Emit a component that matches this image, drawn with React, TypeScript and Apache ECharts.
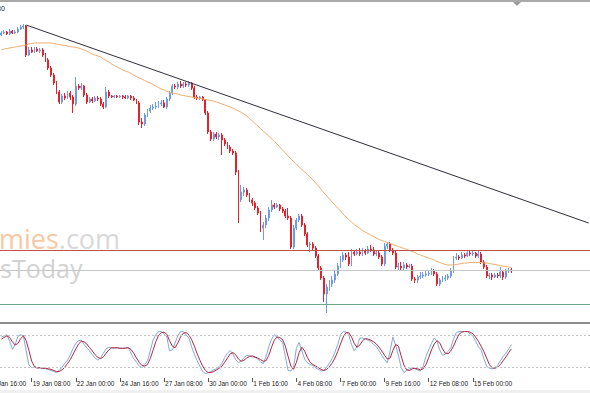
import React, { useEffect, useRef } from "react";
import * as echarts from "echarts";

// Number of time slots on the x axis (bars + empty chart-shift area)
const SLOTS = 214;

// H4 candles: [open, close, low, high]
const candles: number[][] = [
  [286, 288, 285, 290], [288, 289, 287, 291], [289, 287, 286, 290], [287, 290, 286, 292], [290, 288, 287, 291],
  [288, 289, 287, 291], [289, 292, 288, 294], [292, 294, 291, 296], [294, 295, 292, 297], [295, 266, 264, 296],
  [266, 271, 265, 274], [271, 269, 268, 274], [269, 272, 268, 274], [272, 270, 269, 274], [270, 271, 268, 273],
  [271, 266, 264, 273], [266, 261, 259, 268], [261, 253, 251, 263], [253, 246, 244, 255], [246, 238, 236, 248],
  [238, 229, 227, 240], [229, 219, 217, 231], [219, 225, 217, 227], [225, 223, 221, 228], [223, 228, 222, 230],
  [228, 224, 221, 230], [224, 217, 208, 226], [217, 235, 215, 244], [235, 233, 231, 237], [233, 235, 231, 238],
  [235, 226, 224, 236], [226, 219, 217, 228], [219, 222, 218, 224], [222, 220, 218, 224], [220, 223, 219, 225],
  [223, 222, 220, 225], [222, 217, 215, 224], [217, 214, 212, 219], [214, 229, 213, 234], [229, 225, 223, 231],
  [225, 224, 223, 226], [224, 225, 223, 226], [225, 224, 223, 226], [224, 225, 223, 226], [225, 224, 222, 226],
  [224, 223, 222, 226], [223, 225, 222, 226], [225, 223, 221, 226], [223, 221, 220, 225], [221, 218, 217, 222],
  [218, 199, 196, 220], [199, 197, 193, 203], [197, 206, 195, 208], [206, 210, 204, 212], [210, 213, 208, 216],
  [213, 214, 211, 217], [214, 215, 212, 219], [215, 217, 213, 220], [217, 218, 215, 221], [218, 214, 213, 221],
  [214, 222, 212, 224], [222, 228, 220, 230], [228, 235, 226, 237], [235, 234, 232, 237], [234, 237, 232, 239],
  [237, 235, 233, 240], [235, 237, 233, 239], [237, 236, 234, 239], [236, 238, 234, 240], [238, 233, 231, 239],
  [233, 224, 222, 235], [224, 223, 221, 226], [223, 224, 221, 225], [224, 221, 220, 225], [221, 208, 206, 222],
  [208, 189, 187, 210], [189, 182, 180, 191], [182, 187, 180, 189], [187, 184, 182, 189], [184, 186, 181, 188],
  [186, 181, 166, 188], [181, 177, 175, 183], [177, 174, 172, 179], [174, 170, 168, 176], [170, 168, 166, 172],
  [168, 149, 146, 170], [149, 121, 98, 151], [121, 129, 119, 136], [129, 131, 125, 134], [131, 126, 124, 133],
  [126, 121, 119, 128], [121, 118, 115, 123], [118, 113, 111, 120], [113, 108, 106, 115], [108, 93, 89, 110],
  [93, 96, 81, 99], [96, 103, 93, 106], [103, 111, 100, 114], [111, 116, 109, 121], [116, 114, 112, 118],
  [114, 116, 113, 118], [116, 112, 110, 117], [112, 110, 108, 114], [110, 105, 103, 112], [105, 103, 101, 113],
  [103, 74, 72, 105], [74, 93, 72, 96], [93, 101, 91, 103], [101, 105, 99, 107], [105, 96, 94, 107],
  [96, 87, 85, 98], [87, 76, 74, 89], [76, 77, 69, 79], [77, 73, 70, 79], [73, 65, 63, 75],
  [65, 53, 51, 67], [53, 43, 41, 55], [43, 27, 19, 45], [27, 34, 8, 37], [34, 37, 30, 41],
  [37, 41, 34, 45], [41, 47, 38, 51], [47, 55, 45, 58], [55, 61, 53, 65], [61, 66, 59, 69],
  [66, 64, 61, 68], [64, 57, 55, 69], [57, 69, 55, 72], [69, 67, 65, 71], [67, 69, 66, 72],
  [69, 67, 65, 73], [67, 70, 65, 73], [70, 68, 66, 72], [68, 72, 67, 75], [72, 71, 69, 76],
  [71, 67, 65, 74], [67, 68, 65, 71], [68, 64, 62, 70], [64, 57, 55, 66], [57, 75, 55, 78],
  [75, 77, 72, 79], [77, 71, 69, 79], [71, 68, 66, 73], [68, 54, 52, 70], [54, 55, 51, 58],
  [55, 53, 51, 59], [53, 56, 51, 59], [56, 54, 52, 58], [54, 55, 53, 57], [55, 42, 40, 57],
  [42, 41, 38, 44], [41, 44, 38, 46], [44, 45, 42, 49], [45, 46, 43, 49], [46, 47, 44, 51],
  [47, 48, 45, 51], [48, 50, 46, 53], [50, 47, 45, 52], [47, 37, 35, 49], [37, 41, 35, 43],
  [41, 42, 39, 45], [42, 43, 40, 46], [43, 45, 41, 47], [45, 50, 43, 53], [50, 63, 48, 65],
  [63, 64, 61, 68], [64, 63, 61, 66], [63, 66, 62, 69], [66, 65, 63, 68], [65, 68, 64, 71],
  [68, 67, 65, 70], [67, 68, 65, 70], [68, 65, 63, 69], [65, 67, 63, 70], [67, 59, 57, 69],
  [59, 54, 52, 61], [54, 45, 43, 56], [45, 46, 42, 48], [46, 44, 41, 48], [44, 46, 43, 48],
  [46, 45, 43, 48], [45, 49, 43, 54], [49, 44, 41, 51], [44, 50, 42, 52], [50, 51, 48, 53],
  [51, 50, 48, 53],
];

// Moving average overlay
const maLine: number[] = [
  271, 272, 272.5, 273, 273.5, 274, 274.5, 275, 275.5, 276,
  277, 277.5, 278, 278, 278, 278, 278, 278, 278, 277.5,
  277, 276.5, 276, 275.5, 275, 274.5, 274, 273.5, 273, 272,
  271, 270, 268.5, 267, 266, 265, 264, 262, 260.5, 259,
  257, 255.5, 254, 252.5, 251, 250, 249, 247.5, 246, 244.5,
  243, 242, 240.5, 239, 238, 236.5, 235, 233.5, 232, 231,
  229.5, 228.5, 228, 227.5, 227, 226, 225.5, 225, 224.5, 224,
  223.5, 223, 222.5, 222, 221.5, 221, 220.5, 220, 219, 218,
  217, 216, 215, 214, 213, 211.5, 210, 208.5, 207, 205,
  202.5, 200, 197.5, 195, 192.5, 190, 187.5, 185, 182, 179.5,
  177, 174, 171, 168, 165, 162, 159.5, 157, 154, 151.5,
  149, 146.5, 144, 141, 138, 135, 131.5, 128, 125, 122,
  119, 116, 113, 110, 107, 104, 101.5, 99, 96.5, 94.5,
  92.5, 90.5, 89, 87.5, 86, 84.5, 83, 81.5, 80.5, 79.5,
  78.5, 77.5, 76.5, 75.5, 74.5, 73.5, 72.5, 71.5, 70.5, 69.5,
  68.5, 67, 66, 65, 64, 63, 62, 61, 59.5, 58.5,
  57.5, 56.5, 56, 56, 56, 56.5, 57, 57.5, 58, 58,
  58.5, 58.5, 58.5, 58.5, 58.5, 58, 58, 57.5, 57, 56.5,
  56, 55.5, 55, 54.5, 54, 53.5,
];

// Stochastic oscillator: main (%K) and signal (%D)
const stochMain: number[] = [
  76, 78, 80, 68, 53, 62, 77, 80, 78, 50,
  24, 19, 20, 18, 19, 18, 17, 16, 14, 12,
  10, 14, 20, 27, 33, 43, 55, 64, 69, 70,
  62, 56, 50, 43, 37, 33, 38, 46, 54, 57,
  56, 55, 56, 55, 55, 56, 57, 46, 36, 29,
  22, 19, 25, 32, 50, 70, 80, 86, 86, 82,
  76, 50, 52, 65, 78, 86, 86, 80, 74, 58,
  44, 32, 22, 12, 8, 10, 12, 15, 17, 21,
  27, 38, 46, 51, 44, 34, 28, 32, 38, 42,
  41, 39, 38, 35, 30, 27, 40, 58, 72, 80,
  76, 70, 66, 40, 14, 13, 20, 55, 66, 50,
  35, 28, 25, 23, 19, 16, 13, 14, 20, 28,
  36, 48, 62, 80, 86, 85, 80, 62, 50, 58,
  74, 74, 72, 70, 68, 62, 58, 50, 42, 34,
  28, 50, 76, 60, 42, 20, 10, 14, 17, 19,
  17, 15, 13, 22, 40, 52, 64, 74, 68, 52,
  42, 44, 49, 56, 72, 84, 86, 86, 86, 86,
  82, 78, 68, 58, 52, 36, 22, 18, 17, 19,
  24, 32, 40, 46, 54, 62,
];
const stochSignal: number[] = [
  72, 75, 78, 75, 67, 61, 64, 73, 78, 69,
  51, 31, 21, 19, 19, 18, 18, 17, 16, 14,
  12, 12, 15, 20, 27, 34, 44, 54, 63, 68,
  67, 63, 56, 50, 43, 38, 36, 39, 46, 52,
  56, 56, 56, 55, 55, 55, 56, 53, 46, 37,
  29, 23, 22, 25, 36, 51, 67, 79, 84, 85,
  81, 69, 59, 56, 65, 76, 83, 84, 80, 71,
  59, 45, 33, 22, 14, 10, 10, 12, 15, 18,
  22, 29, 37, 45, 47, 43, 35, 31, 33, 37,
  40, 41, 39, 37, 34, 31, 32, 42, 57, 70,
  76, 75, 71, 59, 40, 22, 16, 29, 47, 57,
  50, 38, 29, 25, 22, 19, 16, 14, 16, 21,
  28, 37, 49, 63, 76, 84, 84, 76, 64, 57,
  61, 69, 73, 72, 70, 67, 63, 57, 50, 42,
  35, 37, 51, 62, 59, 41, 24, 15, 14, 17,
  18, 17, 15, 17, 25, 38, 52, 63, 69, 65,
  54, 46, 45, 50, 59, 71, 81, 85, 86, 86,
  85, 82, 76, 68, 59, 49, 37, 25, 19, 18,
  20, 25, 32, 39, 47, 54,
];

// Time axis labels (bar index -> text)
const timeLabelIdx = [11, 27, 43, 59, 75, 91, 107, 123, 139, 155, 171];
const timeLabels = [
  "19 Jan 08:00", "22 Jan 00:00", "24 Jan 16:00", "27 Jan 08:00", "30 Jan 00:00", "1 Feb 16:00",
  "4 Feb 08:00", "7 Feb 00:00", "9 Feb 16:00", "12 Feb 08:00", "15 Feb 00:00",
];
const firstCutLabel = "16 Jan 16:00";

// Horizontal levels and trend line (price units)
const resistanceLevel = 71;
const pivotLevel = 51;
const supportLevel = 17;
const trendStart = [9, 296];
const trendEnd = [213, 98];
const stochLevels = [80, 20];

const BULL = "#6e9ae6";
const BEAR = "#e3232b";

export default function App() {
  const ref = useRef<HTMLDivElement>(null);

  useEffect(() => {
    if (!ref.current) return;
    const chart = echarts.init(ref.current, undefined, { renderer: "svg" });
    const cats = Array.from({ length: SLOTS }, (_, i) => String(i));
    const labelMap = new Map<number, string>();
    timeLabelIdx.forEach((idx, k) => labelMap.set(idx, timeLabels[k]));
    const hasLabel = (i: number) => labelMap.has(i);

    const option: any = {
      animation: false,
      backgroundColor: "#ffffff",
      grid: [
        { left: 0, right: 0, top: 3, height: 318 },
        { left: 0, right: 0, top: 324, height: 54 },
      ],
      xAxis: [
        { type: "category", gridIndex: 0, data: cats, boundaryGap: true, show: false },
        {
          type: "category",
          gridIndex: 1,
          data: cats,
          boundaryGap: true,
          axisLine: { show: false },
          axisTick: {
            show: true,
            alignWithLabel: true,
            interval: (i: number) => hasLabel(i),
            length: 4,
            lineStyle: { color: "#555555", width: 1 },
          },
          axisLabel: {
            show: true,
            interval: (i: number) => hasLabel(i),
            formatter: (_v: string, i: number) => labelMap.get(i) ?? "",
            align: "left",
            margin: 2,
            padding: [0, 0, 0, 1],
            fontSize: 6.5,
            fontFamily: "Liberation Sans",
            color: "#222222",
            hideOverlap: false,
          },
          splitLine: { show: false },
        },
      ],
      yAxis: [
        { type: "value", gridIndex: 0, min: 0, max: 318, show: false },
        { type: "value", gridIndex: 1, min: 0, max: 100, show: false },
      ],
      graphic: [
        { type: "rect", z: 10, shape: { x: 0, y: 0, width: 590, height: 2 }, style: { fill: "#a9a9a9" } },
        { type: "polygon", z: 10, shape: { points: [[513, 2], [521, 2], [517, 6]] }, style: { fill: "#9a9a9a" } },
        { type: "rect", z: 10, shape: { x: 0, y: 322, width: 590, height: 2 }, style: { fill: "#8c8c8c" } },
        { type: "rect", z: 10, shape: { x: 0, y: 390, width: 590, height: 3 }, style: { fill: "#f0f0f0" } },
        {
          type: "text", z: 10, x: -3, y: 5,
          style: { text: "80", fontSize: 7, fontFamily: "Liberation Sans", fill: "#222222", textVerticalAlign: "top" },
        },
        {
          type: "text", z: 10, x: -11.4, y: 380,
          style: { text: firstCutLabel, fontSize: 6.5, fontFamily: "Liberation Sans", fill: "#222222", textVerticalAlign: "top" },
        },
        {
          type: "text", z: 0, x: -1, y: 249,
          style: {
            text: "{a|mies}{b|.com}",
            textVerticalAlign: "bottom",
            textAlign: "left",
            rich: {
              a: { fontSize: 27, lineHeight: 22, fontFamily: "Open Sans", fill: "#f8c8a4" },
              b: { fontSize: 27, lineHeight: 22, fontFamily: "Open Sans", fill: "#d8d8d8" },
            },
          },
        },
        {
          type: "text", z: 0, x: 0, y: 279,
          style: { text: "sToday", fontSize: 25, lineHeight: 22, fontFamily: "Open Sans", fill: "#d2d2d2", textVerticalAlign: "bottom", textAlign: "left" },
        },
      ],
      series: [
        {
          type: "candlestick",
          xAxisIndex: 0,
          yAxisIndex: 0,
          data: candles,
          barWidth: 1.4,
          itemStyle: { color: BULL, color0: BEAR, borderColor: BULL, borderColor0: BEAR, borderWidth: 1 },
          markLine: {
            silent: true,
            symbol: ["none", "none"],
            label: { show: false },
            emphasis: { disabled: true },
            data: [
              { yAxis: resistanceLevel, lineStyle: { color: "#c0504d", width: 1, type: "solid" } },
              { yAxis: pivotLevel, lineStyle: { color: "#c6c6c6", width: 1, type: "solid" } },
              { yAxis: supportLevel, lineStyle: { color: "#6aa88c", width: 1, type: "solid" } },
              [
                { coord: trendStart, lineStyle: { color: "#2e2e3a", width: 1, type: "solid" } },
                { coord: trendEnd, lineStyle: { color: "#2e2e3a", width: 1, type: "solid" } },
              ],
            ],
          },
        },
        {
          type: "line",
          xAxisIndex: 0,
          yAxisIndex: 0,
          data: maLine,
          showSymbol: false,
          symbol: "none",
          lineStyle: { color: "#eeac6e", width: 1 },
          z: 3,
        },
        {
          type: "line",
          xAxisIndex: 1,
          yAxisIndex: 1,
          data: stochMain,
          showSymbol: false,
          symbol: "none",
          lineStyle: { color: "#86a6dc", width: 1 },
          markLine: {
            silent: true,
            symbol: ["none", "none"],
            label: { show: false },
            emphasis: { disabled: true },
            data: stochLevels.map((v) => ({ yAxis: v, lineStyle: { color: "#c4c4c4", width: 1, type: [2, 2] } })),
          },
        },
        {
          type: "line",
          xAxisIndex: 1,
          yAxisIndex: 1,
          data: stochSignal,
          showSymbol: false,
          symbol: "none",
          lineStyle: { color: "#b02a3a", width: 1 },
        },
      ],
    };
    chart.setOption(option);
    return () => chart.dispose();
  }, []);

  return (
    <div
      ref={ref}
      style={{ position: "fixed", left: 0, top: 0, width: 590, height: 393, background: "#ffffff" }}
    />
  );
}
